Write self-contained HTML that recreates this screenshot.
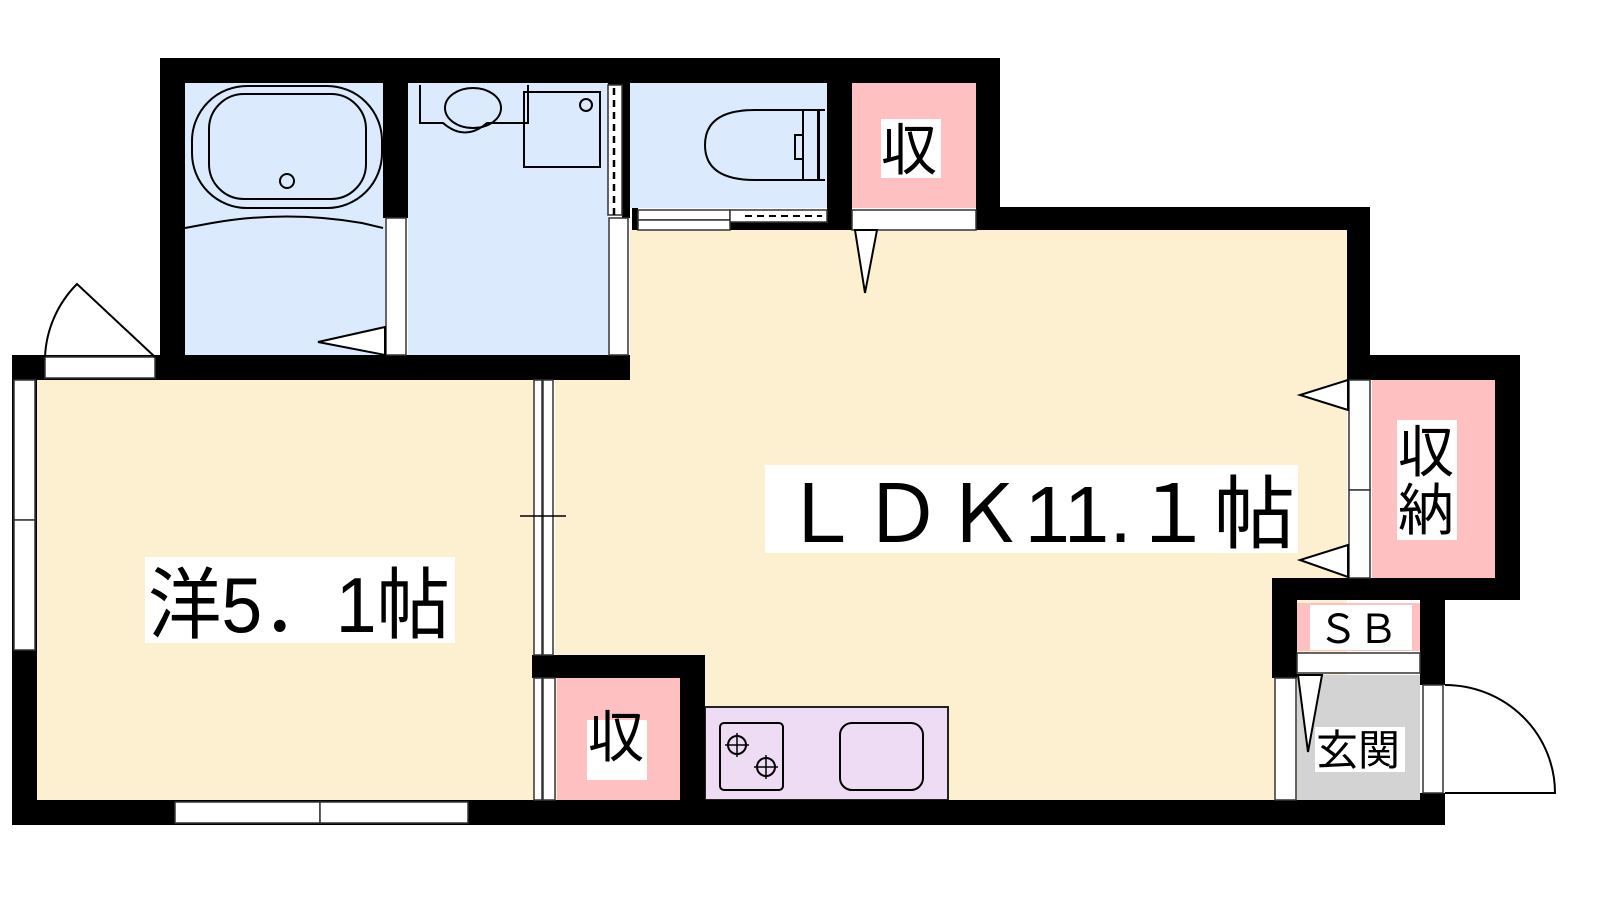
<!DOCTYPE html>
<html><head><meta charset="utf-8"><style>
html,body{margin:0;padding:0;background:#fff;width:1600px;height:900px;overflow:hidden}
svg text{font-family:"Liberation Sans","Noto Sans CJK JP",sans-serif;fill:#000}
</style></head><body>
<svg width="1600" height="900" viewBox="0 0 1600 900" xmlns="http://www.w3.org/2000/svg">
<!-- floors -->
<rect x="185" y="83" width="200" height="272" fill="#dbebfd"/>
<rect x="408" y="83" width="200" height="272" fill="#dbebfd"/>
<rect x="630" y="83" width="197" height="125" fill="#dbebfd"/>
<rect x="852" y="83" width="124" height="125" fill="#fec0c0"/>
<rect x="37" y="380" width="497" height="420" fill="#fdf0d0"/>
<rect x="630" y="230" width="717" height="570" fill="#fdf0d0"/>
<rect x="555" y="380" width="100" height="420" fill="#fdf0d0"/>
<rect x="1372" y="380" width="123" height="198" fill="#fec0c0"/>
<rect x="1297" y="603" width="123" height="48" fill="#fec0c0"/>
<rect x="1297" y="675" width="123" height="125" fill="#d3d3d3"/>
<rect x="557" y="678" width="123" height="122" fill="#fec0c0"/>
<rect x="705" y="707" width="243" height="93" fill="#eedcf4" stroke="#222" stroke-width="2"/>
<!-- walls -->
<g fill="#000">
<rect x="160" y="58" width="840" height="25"/>
<rect x="160" y="58" width="25" height="322"/>
<rect x="383" y="83" width="25" height="135"/>
<rect x="608" y="83" width="22" height="2"/>
<rect x="622" y="83" width="8" height="135"/>
<rect x="12" y="355" width="618" height="25"/>
<rect x="827" y="83" width="25" height="147"/>
<rect x="976" y="58" width="24" height="172"/>
<rect x="976" y="207" width="394" height="23"/>
<rect x="1347" y="207" width="23" height="173"/>
<rect x="1347" y="355" width="173" height="25"/>
<rect x="1495" y="355" width="25" height="245"/>
<rect x="1272" y="578" width="248" height="22"/>
<rect x="1272" y="578" width="25" height="100"/>
<rect x="1420" y="600" width="25" height="85"/>
<rect x="1420" y="793" width="25" height="32"/>
<rect x="12" y="800" width="1433" height="25"/>
<rect x="12" y="355" width="25" height="470"/>
<rect x="532" y="655" width="173" height="23"/>
<rect x="680" y="655" width="25" height="145"/>
<rect x="632" y="208" width="6" height="22"/>
<rect x="730" y="222" width="97" height="8"/>
</g>
<!-- white openings -->
<g fill="#fff" stroke="#333" stroke-width="1.5">
<rect x="386" y="218" width="20" height="137"/>
<rect x="609" y="218" width="19" height="137"/>
<rect x="608" y="85" width="14" height="130"/>
<rect x="45" y="357" width="110" height="21"/>
<rect x="14" y="380" width="21" height="140"/>
<rect x="14" y="520" width="21" height="130"/>
<rect x="175" y="802" width="145" height="21"/>
<rect x="320" y="802" width="148" height="21"/>
<rect x="534" y="380" width="8" height="275"/>
<rect x="543" y="380" width="10" height="275"/>
<rect x="534" y="678" width="8" height="122"/>
<rect x="543" y="678" width="12" height="122"/>
<rect x="638" y="210" width="92" height="10"/>
<rect x="638" y="220" width="92" height="10"/>
<rect x="730" y="210" width="97" height="12"/>
<rect x="852" y="210" width="124" height="20"/>
<rect x="1349" y="380" width="21" height="110"/>
<rect x="1349" y="490" width="21" height="88"/>
<rect x="1297" y="653" width="123" height="20"/>
<rect x="1275" y="678" width="21" height="122"/>
<rect x="1423" y="685" width="20" height="108"/>
</g>
<line x1="614" y1="88" x2="614" y2="215" stroke="#000" stroke-width="2.5" stroke-dasharray="7,5"/>
<line x1="745" y1="216" x2="822" y2="216" stroke="#000" stroke-width="2" stroke-dasharray="7,5"/>
<line x1="520" y1="516" x2="566" y2="516" stroke="#000" stroke-width="1.5"/>
<!-- door swings -->
<g fill="#fff" stroke="#000" stroke-width="2">
<polygon points="385,327 318,342 385,355"/>
<polygon points="855,230 865,293 877,230"/>
<polygon points="1348,380 1300,395 1348,410"/>
<polygon points="1348,545 1300,560 1348,577"/>
<polygon points="1298,675 1308,752 1322,675"/>
</g>
<g fill="none" stroke="#000" stroke-width="2">
<path d="M45,357 A110,110 0 0 1 77,284 L155,357"/>
<path d="M1445,685 A110,108 0 0 1 1555,793 L1445,793"/>
</g>
<!-- fixtures -->
<g fill="none" stroke="#000" stroke-width="2">
<rect x="192" y="86" width="190" height="122" rx="55"/>
<rect x="209" y="94" width="157" height="105" rx="35"/>
<circle cx="287" cy="181" r="7"/>
<path d="M185,228 L212,223 Q287,210 362,223 L383,228"/>
<path d="M420,85 L420,123 L443,123 Q465,142 487,123 L528,123 L528,85" transform="translate(0,0)"/>
<ellipse cx="473" cy="108" rx="28" ry="20"/>
<rect x="524" y="92" width="76" height="75"/>
<circle cx="586" cy="105" r="6"/>
<path d="M755,110 L803,110 L803,180 L755,180 Q705,180 705,145 Q705,110 755,110 Z"/>
<path d="M803,110 h15 v70 h-15 M803,135 h-8 v24 h8"/>
<path d="M825,110 h-6 v70 h6"/>
<rect x="720" y="723" width="63" height="67" rx="4"/>
<circle cx="737" cy="745" r="9"/>
<circle cx="766" cy="767" r="9"/>
<rect x="840" y="723" width="83" height="67" rx="12"/>
</g>
<path d="M725,745 h24 M737,733 v24 M754,767 h24 M766,755 v24" stroke="#000" stroke-width="1.5"/>
<!-- labels -->
<g fill="#fff">
<rect x="145" y="557" width="310" height="86"/>
<rect x="765" y="465" width="533" height="88"/>
<rect x="881" y="119" width="60" height="59"/>
<rect x="587" y="720" width="60" height="60"/>
<rect x="1397" y="420" width="60" height="120"/>
<rect x="1310" y="605" width="102" height="45"/>
<rect x="1315" y="727" width="90" height="45"/>
</g>
<text x="148" y="632" font-size="78" textLength="302" lengthAdjust="spacingAndGlyphs">洋5．1帖</text>
<text x="780" y="542" font-size="80" textLength="515" lengthAdjust="spacingAndGlyphs">ＬＤＫ11.１帖</text>
<text x="881" y="170" font-size="56">収</text>
<text x="588" y="757" font-size="56">収</text>
<text x="1398" y="472" font-size="56">収</text>
<text x="1398" y="530" font-size="56">納</text>
<text x="1318" y="643" font-size="40">ＳＢ</text>
<text x="1316" y="765" font-size="42">玄関</text>
</svg>
</body></html>
